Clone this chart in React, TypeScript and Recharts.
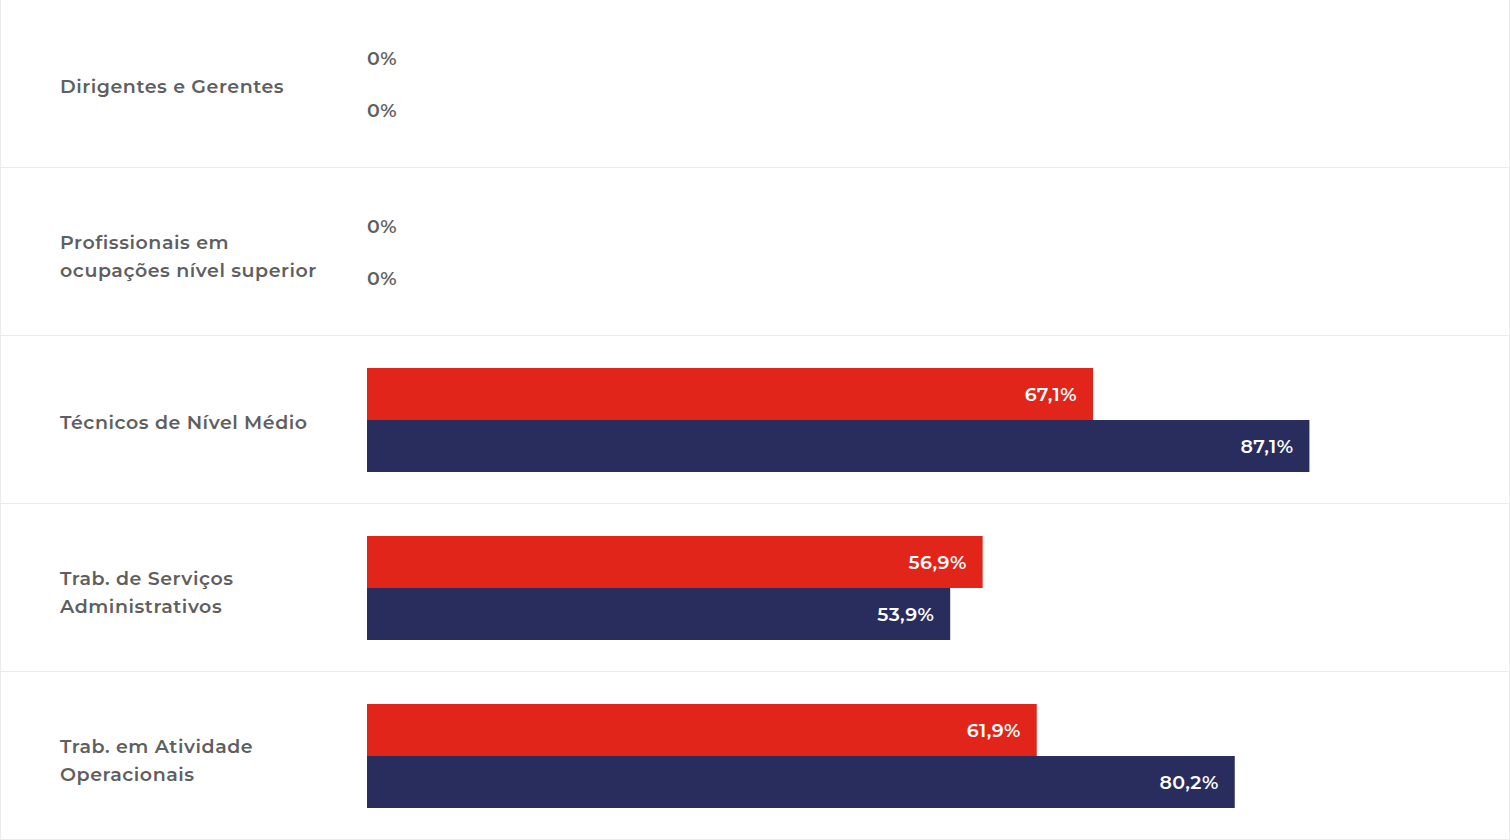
import React from 'react';
import { BarChart, Bar, XAxis, YAxis, LabelList, Rectangle } from 'recharts';

const categorias = [
  'Dirigentes e Gerentes',
  'Profissionais em ocupações nível superior',
  'Técnicos de Nível Médio',
  'Trab. de Serviços Administrativos',
  'Trab. em Atividade Operacionais',
];

const linhasRotulo = [
  ['Dirigentes e Gerentes'],
  ['Profissionais em', 'ocupações nível superior'],
  ['Técnicos de Nível Médio'],
  ['Trab. de Serviços', 'Administrativos'],
  ['Trab. em Atividade', 'Operacionais'],
];

const serieVermelha = [0, 0, 67.1, 56.9, 61.9];
const serieAzul = [0, 0, 87.1, 53.9, 80.2];

const dados = categorias.map((c, i) => ({
  categoria: c,
  vermelha: serieVermelha[i],
  azul: serieAzul[i],
}));

const FONTE = 'Montserrat, "Open Sans", sans-serif';
const CINZA = '#5f5f5f';
const LINHA = '#ebebeb';

const formatar = (v: number) =>
  v === 0 ? '0%' : `${v.toFixed(1).replace('.', ',')}%`;

const valorDe = (value: any) => {
  const bruto = Array.isArray(value) ? value[value.length - 1] : value;
  return Number(bruto) || 0;
};

function RotuloCategoria(props: any) {
  const { y, payload, index } = props;
  const linhas = linhasRotulo[index] ?? [payload.value];
  const ajuste = linhas.length > 1 ? 4 : 2;
  const inicio = y + ajuste - ((linhas.length - 1) * 28) / 2;
  return (
    <g>
      <line x1={0} x2={1508} y1={y + 83.5} y2={y + 83.5} stroke={LINHA} strokeWidth={1} />
      {linhas.map((l: string, i: number) => (
        <text
          key={i}
          x={59}
          y={inicio + i * 28}
          dominantBaseline="central"
          fill={CINZA}
          fontSize={19}
          fontWeight={600}
          fontFamily={FONTE}
          letterSpacing={0.55}
        >
          {l}
        </text>
      ))}
    </g>
  );
}

// zero values keep a 1px slot (minPointSize) so the label is drawn, but no bar is painted
function BarraSemZero(props: any) {
  if (valorDe(props.value) === 0) return <g />;
  return <Rectangle {...props} />;
}

function RotuloValor(props: any) {
  const { x, y, width, height, value } = props;
  const v = valorDe(value);
  if (v === 0) {
    return (
      <text x={x} y={y + height / 2} dominantBaseline="central" fill={CINZA}
        fontSize={19} fontWeight={600} fontFamily={FONTE} letterSpacing={0.4}>
        {formatar(v)}
      </text>
    );
  }
  return (
    <text x={x + width - 16} y={y + height / 2} dominantBaseline="central" textAnchor="end"
      fill="#ffffff" fontSize={19} fontWeight={600} fontFamily={FONTE} letterSpacing={0.4}>
      {formatar(v)}
    </text>
  );
}

export default function App() {
  return (
    <div
      style={{
        position: 'absolute',
        left: 0,
        top: 0,
        width: 1510,
        height: 840,
        boxSizing: 'border-box',
        borderLeft: `1px solid ${LINHA}`,
        borderRight: `1px solid ${LINHA}`,
        background: '#fff',
      }}
    >
      <BarChart
        width={1508}
        height={840}
        data={dados}
        layout="vertical"
        margin={{ top: 0, right: 60, bottom: 0, left: 0 }}
        barCategoryGap={32}
        barGap={0}
      >
        <XAxis type="number" domain={[0, 100]} hide />
        <YAxis
          type="category"
          dataKey="categoria"
          width={366}
          axisLine={false}
          tickLine={false}
          tick={<RotuloCategoria />}
          interval={0}
        />
        <Bar dataKey="vermelha" fill="#e1251b" barSize={52} minPointSize={1}
          shape={<BarraSemZero />} isAnimationActive={false}>
          <LabelList dataKey="vermelha" content={<RotuloValor />} />
        </Bar>
        <Bar dataKey="azul" fill="#282d5e" barSize={52} minPointSize={1}
          shape={<BarraSemZero />} isAnimationActive={false}>
          <LabelList dataKey="azul" content={<RotuloValor />} />
        </Bar>
      </BarChart>
    </div>
  );
}
